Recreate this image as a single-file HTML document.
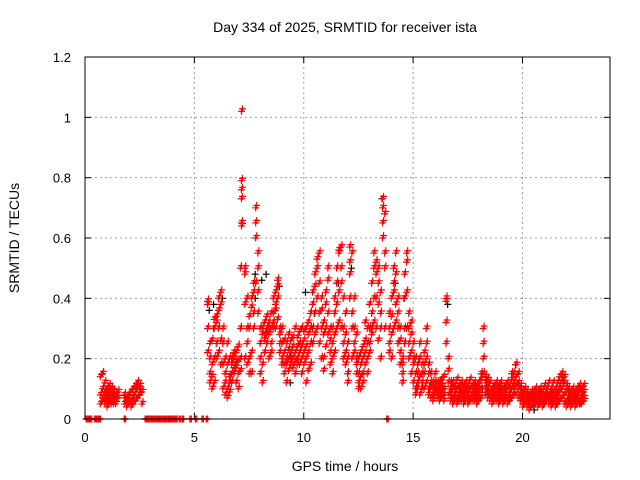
<!DOCTYPE html>
<html><head><meta charset="utf-8"><style>
html,body{margin:0;padding:0;background:#fff}
svg{display:block;font-family:"Liberation Sans",Arial,sans-serif}
</style></head><body>
<svg id="chart" width="640" height="480" viewBox="0 0 640 480" xmlns="http://www.w3.org/2000/svg">
<rect width="640" height="480" fill="#fff"/>
<text x="345" y="32" font-size="14" text-anchor="middle">Day 334 of 2025, SRMTID for receiver ista</text>
<text x="345" y="471" font-size="14" text-anchor="middle">GPS time / hours</text>
<text transform="translate(19,238) rotate(-90)" font-size="14" text-anchor="middle">SRMTID / TECUs</text>
<g id="grid"></g><g id="axes"></g><g id="black"></g><g id="red"></g>
<rect x="85" y="57" width="525" height="362" fill="none" stroke="#000" stroke-width="1"/>
</svg>
<script>
const xTicks=[0,5,10,15,20];
const yTicks=[0,0.2,0.4,0.6,0.8,1,1.2];
const yTickLabels=["0","0.2","0.4","0.6","0.8","1","1.2"];
const zeroTimes=[0.05,0.15,0.25,0.45,0.55,0.65,1.8,2.75,2.85,2.95,3.05,3.15,3.25,3.35,3.45,3.55,3.65,3.75,3.85,3.95,4.05,4.15,4.3,4.45,4.8,5.05,5.35,5.55,13.8];
const redTimes=[0.7,0.8,0.9,1.0,1.1,1.2,1.3,1.4,1.5,1.8,1.9,2.0,2.1,2.2,2.3,2.4,2.5,2.6,
5.6,5.7,5.8,5.9,6.0,6.1,6.2,6.3,6.4,6.5,6.6,6.7,6.8,6.9,7.0,7.1,7.15,7.3,7.4,7.5,7.6,7.7,7.8,7.9,8.0,8.1,8.2,8.3,8.4,8.5,8.6,8.7,8.8,8.9,
9.0,9.1,9.2,9.3,9.4,9.5,9.6,9.7,9.8,9.9,10.0,10.1,10.2,10.3,10.4,10.5,10.6,10.7,10.8,10.9,11.0,11.1,11.2,11.3,11.4,11.5,11.6,11.7,11.8,11.9,
12.0,12.1,12.2,12.3,12.4,12.5,12.6,12.7,12.8,12.9,13.0,13.1,13.2,13.3,13.4,13.5,13.6,13.7,13.9,14.0,14.1,14.2,14.3,14.4,14.5,14.6,14.7,14.8,14.9,
15.0,15.1,15.2,15.3,15.4,15.5,15.6,15.7,15.8,15.9,16.0,16.1,16.2,16.3,16.4,16.5,16.6,16.7,16.8,16.9,17.0,17.1,17.2,17.3,17.4,17.5,17.6,17.7,17.8,17.9,
18.0,18.1,18.2,18.3,18.4,18.5,18.6,18.7,18.8,18.9,19.0,19.1,19.2,19.3,19.4,19.5,19.6,19.7,19.8,19.9,
20.0,20.1,20.2,20.3,20.4,20.5,20.6,20.7,20.8,20.9,21.0,21.1,21.2,21.3,21.4,21.5,21.6,21.7,21.8,21.9,22.0,22.1,22.2,22.3,22.4,22.5,22.6,22.7,22.8];
const redValues=[[.05,.08,.14],[.15,.1,.06,.07],[.05,.09,.12,.07],[.06,.1,.08,.04],[.07,.11,.05,.09],[.06,.08,.1,.05],[.05,.07,.09],[.06,.08,.05],[.07,.09],
[.05,.07,.08],[.04,.07,.06],[.05,.08,.06],[.04,.06,.09],[.05,.07,.1],[.06,.09,.11],[.07,.1,.12],[.08,.11,.1],[.05,.09],
[.38,.39,.3,.22],[.15,.2,.25,.12],[.1,.18,.26,.14],[.12,.2,.3,.33],[.25,.32,.34,.2],[.3,.4,.36,.22],[.42,.38,.26,.18],[.18,.25,.3,.1],[.08,.12,.2,.15],[.07,.1,.18,.25],[.09,.14,.2,.12],[.12,.18,.2,.15],[.15,.2,.22,.17],[.12,.17,.22,.19],[.1,.15,.19,.24],[.2,.5,.3,.16],[1.02,.79,.76,.73,.65,.64],[.5,.48,.38,.2],[.3,.4,.25,.18],[.2,.3,.34,.15],[.15,.22,.37,.4],[.35,.42,.45,.3],[.7,.65,.6,.45],[.55,.5,.42,.35],[.3,.25,.2,.15],[.18,.3,.28,.12],[.22,.32,.26,.28],[.3,.28,.25,.34],[.28,.3,.2,.32],[.3,.35,.25,.22],[.35,.4,.3,.32],[.38,.42,.36,.3],[.4,.44,.46,.33],[.3,.28,.25,.22],
[.2,.25,.3,.18],[.15,.22,.18,.26],[.18,.2,.25,.12],[.2,.23,.16,.28],[.22,.18,.2,.26],[.17,.2,.24,.27],[.15,.19,.22,.3],[.2,.24,.18,.27],[.18,.22,.25,.29],[.2,.15,.24,.3],[.22,.26,.29,.18],[.24,.3,.2,.12],[.28,.32,.22,.16],[.3,.35,.25,.18],[.25,.38,.42,.3],[.44,.48,.35,.28],[.5,.53,.4,.3],[.55,.45,.35,.25],[.3,.36,.4,.2],[.28,.32,.2,.16],[.38,.42,.3,.24],[.46,.5,.35,.28],[.3,.22,.18,.26],[.25,.2,.15,.3],[.35,.4,.28,.22],[.45,.5,.38,.3],[.55,.56,.42,.32],[.57,.5,.45,.3],[.3,.25,.2,.4],[.35,.28,.22,.18],
[.2,.15,.12,.25],[.48,.52,.57,.4],[.55,.35,.3,.2],[.3,.25,.4,.22],[.18,.2,.15,.28],[.12,.15,.1,.2],[.1,.14,.18,.22],[.12,.15,.2,.24],[.18,.22,.26,.32],[.2,.25,.3,.15],[.25,.3,.38,.22],[.3,.45,.35,.28],[.5,.55,.4,.32],[.52,.48,.4,.3],[.45,.5,.38,.26],[.35,.42,.3,.2],[.7,.73,.65,.6],[.55,.68,.5,.3],[.25,.3,.35,.22],[.28,.34,.4,.2],[.42,.5,.45,.3],[.55,.48,.38,.32],[.4,.35,.3,.25],[.3,.22,.18,.26],[.18,.12,.15,.2],[.3,.4,.48,.25],[.52,.55,.42,.3],[.35,.3,.25,.2],[.28,.32,.22,.15],
[.2,.25,.18,.12],[.15,.1,.2,.08],[.12,.18,.15,.1],[.2,.25,.14,.08],[.15,.18,.12,.1],[.18,.22,.15,.1],[.2,.25,.3,.12],[.15,.1,.08,.18],[.12,.15,.1,.07],[.1,.08,.12,.06],[.08,.12,.15,.1],[.1,.07,.09,.12],[.08,.12,.06,.1],[.09,.13,.07,.11],[.1,.08,.14,.06],[.4,.39,.32,.25],[.2,.16,.12,.08],[.1,.08,.06,.12],[.07,.1,.12,.05],[.06,.09,.11,.08],[.07,.1,.13,.05],[.08,.11,.06,.09],[.06,.1,.12,.08],[.07,.09,.11,.05],[.06,.08,.12,.1],[.05,.09,.11,.07],[.07,.1,.13,.06],[.08,.11,.09,.06],[.06,.1,.12,.08],[.07,.09,.11,.05],
[.08,.12,.1,.06],[.1,.15,.13,.07],[.3,.25,.2,.15],[.12,.1,.08,.14],[.09,.11,.07,.13],[.06,.09,.12,.08],[.07,.1,.08,.05],[.06,.09,.11,.07],[.08,.1,.12,.06],[.07,.09,.11,.05],[.06,.1,.08,.12],[.05,.08,.1,.07],[.06,.09,.11,.08],[.07,.1,.12,.05],[.08,.11,.09,.06],[.1,.13,.07,.15],[.12,.15,.1,.08],[.18,.14,.11,.08],[.1,.15,.12,.07],[.07,.09,.06,.11],
[.05,.07,.09,.04],[.06,.08,.05,.1],[.04,.07,.09,.06],[.05,.08,.06,.03],[.06,.09,.07,.04],[.05,.07,.04,.09],[.06,.08,.05,.1],[.04,.07,.09,.06],[.05,.08,.1,.07],[.06,.09,.07,.04],[.05,.08,.11,.06],[.07,.1,.06,.09],[.05,.08,.12,.07],[.06,.1,.08,.04],[.07,.09,.12,.05],[.06,.08,.1,.04],[.05,.09,.12,.07],[.11,.14,.09,.06],[.13,.15,.1,.07],[.12,.14,.08,.05],[.06,.09,.11,.04],[.05,.08,.1,.06],[.07,.09,.06,.04],[.05,.08,.1,.06],[.06,.09,.07,.04],[.05,.08,.1,.07],[.06,.09,.11,.05],[.07,.1,.08,.05],[.06,.09,.11,.07]];
const blackTimes=[0.9,1.3,2.2,2.5,5.65,5.85,6.25,7.75,8.05,8.25,8.85,9.35,10.05,10.45,11.55,12.15,13.05,13.55,14.15,14.55,15.25,16.55,17.5,18.15,19.65,20.5,21.85,22.6];
const blackValues=[[.09],[.1],[.08],[.1],[.36],[.38,.3],[.4],[.4,.48],[.46],[.48],[.44],[.12],[.42],[.35],[.45],[.5],[.3],[.73],[.45],[.4],[.2],[.38],[.09],[.1],[.18],[.03],[.12],[.05]];
const NS="http://www.w3.org/2000/svg";
const X0=85,X1=610,Y0=419,Y1=57,XMAX=24,YMAX=1.2;
function xs(h){return X0+h/XMAX*(X1-X0);}
function ys(v){return Y0-v/YMAX*(Y0-Y1);}
function mk(tag,attrs,parent){const e=document.createElementNS(NS,tag);for(const k in attrs)e.setAttribute(k,attrs[k]);parent.appendChild(e);return e;}
const grid=document.getElementById('grid'),axes=document.getElementById('axes');
xTicks.forEach(t=>{const x=xs(t);
 if(t>0){const g=mk('line',{x1:x,x2:x,y1:Y1,y2:Y0,stroke:'#a0a0a0','stroke-dasharray':'2,3'},grid);
 
 }
 mk('line',{x1:x,x2:x,y1:Y0,y2:Y0-6,stroke:'#000'},axes);
 mk('line',{x1:x,x2:x,y1:Y1,y2:Y1+6,stroke:'#000'},axes);
 const l=mk('text',{x:x,y:Y0+23,'font-size':13,'text-anchor':'middle'},axes);l.textContent=String(t);
 
 
});
yTicks.forEach((t,i)=>{const y=ys(t);
 if(t>0&&t<YMAX){const g=mk('line',{x1:X0,x2:X1,y1:y,y2:y,stroke:'#a0a0a0','stroke-dasharray':'2,3'},grid);
 
 }
 mk('line',{x1:X0,x2:X0+6,y1:y,y2:y,stroke:'#000'},axes);
 mk('line',{x1:X1,x2:X1-6,y1:y,y2:y,stroke:'#000'},axes);
 const l=mk('text',{x:X0-14,y:y+5,'font-size':13,'text-anchor':'end'},axes);l.textContent=yTickLabels[i];
 
 
});
function plus(g,h,v,col,name){const x=xs(h),y=ys(v);
 const p=mk('path',{d:`M${x-3.5},${y}h7M${x},${y-3.5}v7`,stroke:col,'stroke-width':1.2,fill:'none'},g);
 
 }
const bg=document.getElementById('black'),rg=document.getElementById('red');
blackTimes.forEach((t,i)=>blackValues[i].forEach(v=>plus(bg,t+0.03,v,'#000','black-point')));
zeroTimes.forEach(t=>{plus(bg,t,0,'#000','black-zero-point');plus(rg,t,0,'#f00','red-zero-point');plus(rg,t+0.06,0,'#f00','red-zero-point');});
redTimes.forEach((t,i)=>redValues[i].forEach(v=>{plus(rg,t,v,'#f00','red-point');plus(rg,t+0.05,v+0.008,'#f00','red-point');}));
</script>
</body></html>
